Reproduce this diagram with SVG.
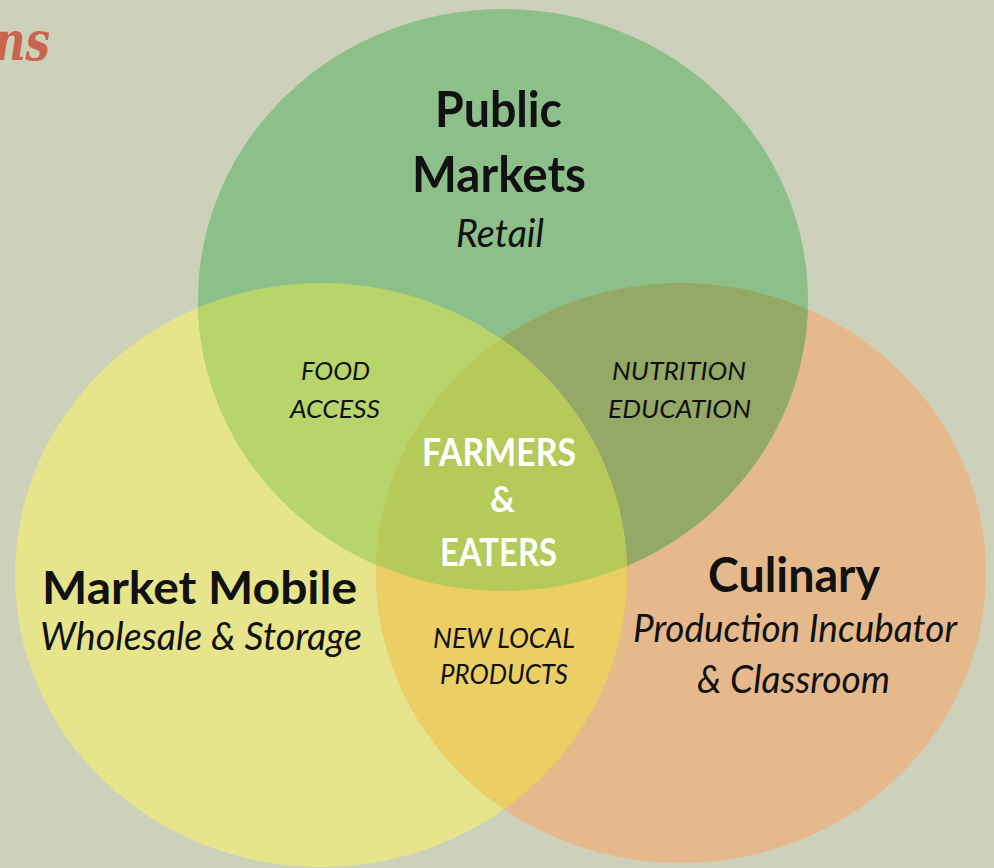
<svg xmlns="http://www.w3.org/2000/svg" width="994" height="868" viewBox="0 0 994 868">
<style>
.t{font-family:Lato,"Open Sans","Liberation Sans",sans-serif;fill:#111;text-anchor:start}
.b{font-weight:700}
.i{font-style:italic}
.w{fill:#ffffff;font-weight:700}
</style>
<defs>
<clipPath id="cTop"><ellipse cx="503" cy="300" rx="305" ry="291"/></clipPath>
<clipPath id="cLeft"><ellipse cx="321" cy="575" rx="306" ry="292"/></clipPath>
<clipPath id="cRight"><ellipse cx="681" cy="573" rx="305" ry="290"/></clipPath>
</defs>
<rect x="0" y="0" width="994" height="868" fill="#cdd1b9"/>
<text x="-6" y="60" font-family="'DejaVu Serif',serif" font-weight="700" font-style="italic" font-size="54" fill="#c9654f" textLength="56" lengthAdjust="spacingAndGlyphs">ns</text>

<g id="market-mobile"><ellipse cx="321" cy="575" rx="306" ry="292" fill="#e6e58c"/></g>
<g id="culinary"><ellipse cx="681" cy="573" rx="305" ry="290" fill="#e5b98b"/></g>
<g id="public-markets"><ellipse cx="503" cy="300" rx="305" ry="291" fill="#8cbf8a"/></g>

<g id="food-access"><ellipse cx="321" cy="575" rx="306" ry="292" fill="#b7d56a" clip-path="url(#cTop)"/></g>
<g id="nutrition-education"><ellipse cx="681" cy="573" rx="305" ry="290" fill="#95a967" clip-path="url(#cTop)"/></g>
<g id="new-local-products"><ellipse cx="681" cy="573" rx="305" ry="290" fill="#ebcf64" clip-path="url(#cLeft)"/></g>
<g id="farmers-eaters"><g clip-path="url(#cTop)"><ellipse cx="681" cy="573" rx="305" ry="290" fill="#b6ca59" clip-path="url(#cLeft)"/></g></g>

<g id="connectors"></g>

<g id="labels">
<text class="t b" x="435" y="127" font-size="50" textLength="127" lengthAdjust="spacingAndGlyphs">Public</text>
<text class="t b" x="412" y="192" font-size="50" textLength="174" lengthAdjust="spacingAndGlyphs">Markets</text>
<text class="t i" x="456" y="247" font-size="38" textLength="88" lengthAdjust="spacingAndGlyphs">Retail</text>

<text class="t i" x="301" y="380" font-size="25" textLength="69" lengthAdjust="spacingAndGlyphs">FOOD</text>
<text class="t i" x="290" y="418" font-size="25" textLength="90" lengthAdjust="spacingAndGlyphs">ACCESS</text>

<text class="t i" x="612" y="380" font-size="25" textLength="134" lengthAdjust="spacingAndGlyphs">NUTRITION</text>
<text class="t i" x="608" y="418" font-size="25" textLength="143" lengthAdjust="spacingAndGlyphs">EDUCATION</text>

<text class="t w" x="422" y="466" font-size="39" textLength="154" lengthAdjust="spacingAndGlyphs">FARMERS</text>
<text class="t w" x="490" y="512" font-size="36" textLength="25" lengthAdjust="spacingAndGlyphs">&amp;</text>
<text class="t w" x="440" y="566" font-size="39" textLength="117" lengthAdjust="spacingAndGlyphs">EATERS</text>

<text class="t b" x="42" y="604" font-size="46" textLength="315" lengthAdjust="spacingAndGlyphs">Market Mobile</text>
<text class="t i" x="40" y="650" font-size="38" textLength="322" lengthAdjust="spacingAndGlyphs">Wholesale &amp; Storage</text>

<text class="t i" x="433" y="648" font-size="27" textLength="142" lengthAdjust="spacingAndGlyphs">NEW LOCAL</text>
<text class="t i" x="440" y="684" font-size="27" textLength="128" lengthAdjust="spacingAndGlyphs">PRODUCTS</text>

<text class="t b" x="708" y="592" font-size="48" textLength="172" lengthAdjust="spacingAndGlyphs">Culinary</text>
<text class="t i" x="633" y="642" font-size="38" textLength="324" lengthAdjust="spacingAndGlyphs">Production Incubator</text>
<text class="t i" x="697" y="693" font-size="38" textLength="193" lengthAdjust="spacingAndGlyphs">&amp; Classroom</text>
</g>
</svg>
